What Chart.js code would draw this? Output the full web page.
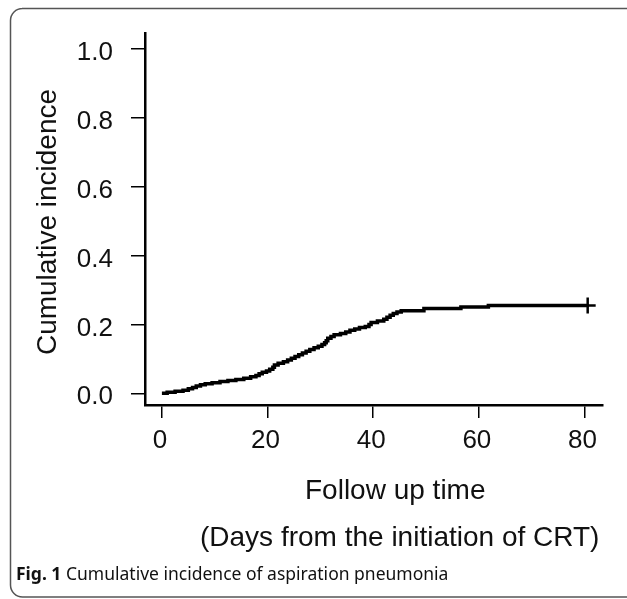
<!DOCTYPE html>
<html>
<head>
<meta charset="utf-8">
<script src="https://cdn.jsdelivr.net/npm/chart.js@4.4.1/dist/chart.umd.min.js"></script>
<style>
  html, body { margin: 0; padding: 0; background: #fff; }
  #wrap { position: relative; width: 627px; height: 599px; }
</style>
</head>
<body>
<div id="wrap"><canvas id="chart" width="627" height="599"></canvas></div>
<script>
// step curve: day of each step and the incidence from that day on
var days = [0, 1.0, 2.5, 4.0, 5.0, 5.8, 6.5, 7.3, 8.2, 9.5, 11.0, 12.5, 14.0, 15.5, 16.8, 17.8,
            18.4, 19.0, 19.8, 20.4, 21.0, 21.3, 22.0, 23.0, 23.8, 24.5, 25.2, 25.9, 26.6, 27.3,
            28.0, 28.8, 29.6, 30.3, 30.8, 31.1, 31.4, 32.0, 32.6, 33.8, 34.8, 35.6, 36.5, 37.4,
            38.5, 39.2, 39.6, 40.8, 42.0, 42.6, 43.2, 43.8, 44.5, 45.3, 49.6, 56.6, 61.8, 80.6];
var incidence = [0, 0.003, 0.006, 0.009, 0.013, 0.017, 0.021, 0.025, 0.028, 0.031, 0.034, 0.037,
            0.040, 0.044, 0.048, 0.052, 0.057, 0.061, 0.065, 0.070, 0.076, 0.082, 0.087, 0.092,
            0.097, 0.102, 0.107, 0.112, 0.117, 0.122, 0.127, 0.132, 0.137, 0.142, 0.147, 0.153,
            0.160, 0.165, 0.170, 0.174, 0.178, 0.183, 0.187, 0.191, 0.194, 0.200, 0.206, 0.210,
            0.215, 0.221, 0.227, 0.232, 0.236, 0.240, 0.246, 0.251, 0.255, 0.255];
var censorDays = [80.6];
var censorValues = [0.255];

var xTicks = [0, 20, 40, 60, 80];
var yTicks = [0, 0.2, 0.4, 0.6, 0.8, 1.0];

var yTitle = 'Cumulative incidence';
var xTitle = 'Follow up time';
var xSubTitle = '(Days from the initiation of CRT)';
var captionBold = 'Fig. 1';
var captionText = ' Cumulative incidence of aspiration pneumonia';

var curve = days.map(function (d, i) { return { x: d, y: incidence[i] }; });
var censored = censorDays.map(function (d, i) { return { x: d, y: censorValues[i] }; });

var axisFont = { family: '"Liberation Sans", Arial, sans-serif', size: 26 };

// frame, axis titles and caption
var textPlugin = {
    id: 'textPlugin',
    afterDraw: function (chart) {
        var ctx = chart.ctx;
        ctx.save();

        ctx.strokeStyle = '#555';
        ctx.lineWidth = 1.5;
        ctx.beginPath();
        ctx.moveTo(627, 8.5);
        ctx.lineTo(22, 8.5);
        ctx.arcTo(10.5, 8.5, 10.5, 20, 12);
        ctx.lineTo(10.5, 585);
        ctx.arcTo(10.5, 597, 22, 597, 12);
        ctx.lineTo(627, 597);
        ctx.stroke();

        ctx.fillStyle = '#111';
        ctx.font = '28px "Liberation Sans", Arial, sans-serif';
        ctx.textBaseline = 'alphabetic';
        ctx.textAlign = 'left';
        ctx.fillText(xTitle, 305, 499);
        ctx.fillText(xSubTitle, 200, 546);

        ctx.save();
        ctx.translate(56, 222);
        ctx.rotate(-Math.PI / 2);
        ctx.textAlign = 'center';
        ctx.fillText(yTitle, 0, 0);
        ctx.restore();

        ctx.textAlign = 'left';
        ctx.font = 'bold 17.5px "Noto Sans", sans-serif';
        ctx.fillText(captionBold, 16, 580);
        var w = ctx.measureText(captionBold).width;
        ctx.font = '17.5px "Noto Sans", sans-serif';
        ctx.fillText(captionText, 16 + w, 580);

        ctx.restore();
    }
};

new Chart(document.getElementById('chart'), {
    type: 'line',
    data: {
        datasets: [{
            data: curve,
            borderColor: '#000',
            borderWidth: 3.5,
            pointRadius: 0,
            stepped: true,
            fill: false
        }, {
            data: censored,
            showLine: false,
            pointStyle: 'cross',
            pointRadius: 8,
            borderWidth: 2.5,
            borderColor: '#000'
        }]
    },
    options: {
        responsive: false,
        animation: false,
        layout: { padding: { left: 0, top: 25, right: 24, bottom: 0 } },
        plugins: { legend: { display: false }, tooltip: { enabled: false } },
        scales: {
            x: {
                type: 'linear',
                min: -3.2,
                max: 83.5,
                afterBuildTicks: function (scale) {
                    scale.ticks = xTicks.map(function (v) { return { value: v }; });
                },
                afterFit: function (scale) { scale.height = 194; },
                border: { display: true, color: '#000', width: 2.5 },
                grid: { drawOnChartArea: false, drawTicks: true, tickLength: 13, color: '#000', lineWidth: 1.5 },
                ticks: { color: '#111', font: axisFont, padding: 7, maxRotation: 0, labelOffset: -2 }
            },
            y: {
                type: 'linear',
                min: -0.034,
                max: 1.045,
                afterBuildTicks: function (scale) {
                    scale.ticks = yTicks.map(function (v) { return { value: v }; });
                },
                afterFit: function (scale) { scale.width = 145; },
                border: { display: true, color: '#000', width: 2.5 },
                grid: { drawOnChartArea: false, drawTicks: true, tickLength: 14, color: '#000', lineWidth: 1.5 },
                ticks: {
                    color: '#111',
                    font: axisFont,
                    padding: 18,
                    labelOffset: 4,
                    callback: function (v) { return v.toFixed(1); }
                }
            }
        }
    },
    plugins: [textPlugin]
});
</script>
</body>
</html>
